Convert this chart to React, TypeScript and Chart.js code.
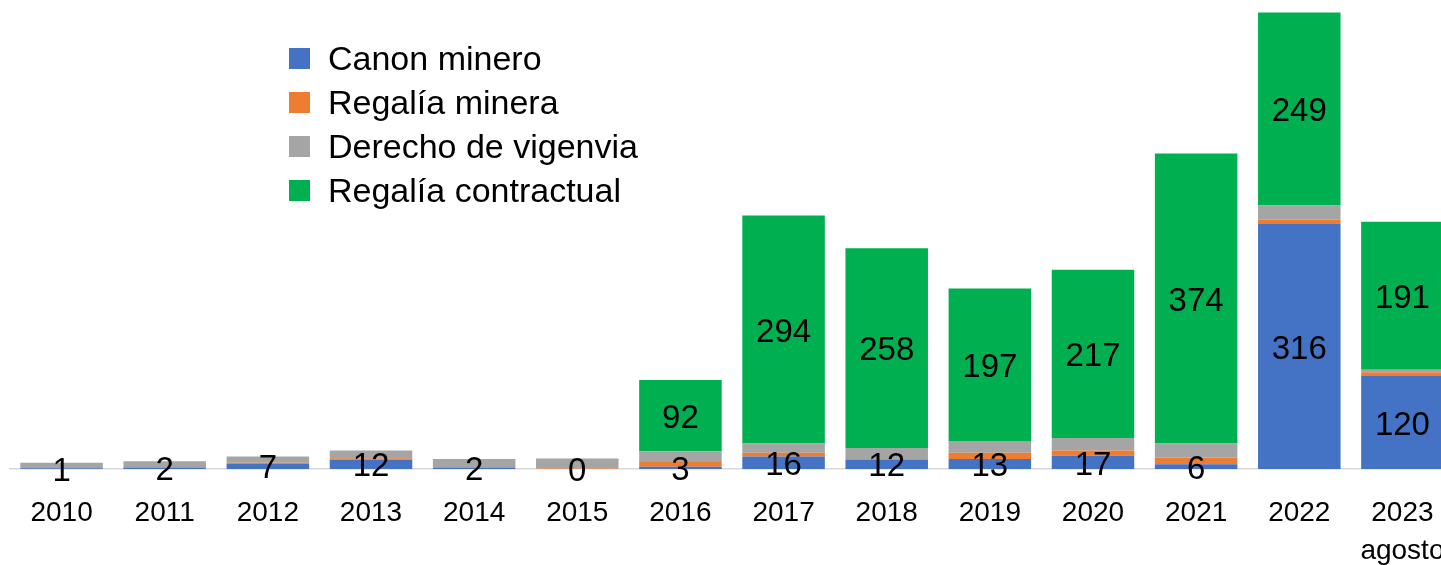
import React, { useEffect, useRef } from "react";
import { Chart, registerables } from "chart.js";

Chart.register(...registerables);

const years: (string | string[])[] = [
  "2010", "2011", "2012", "2013", "2014", "2015", "2016",
  "2017", "2018", "2019", "2020", "2021", "2022", ["2023", "agosto"],
];
const canonMinero = [1, 2, 7, 12, 2, 0, 3, 16, 12, 13, 17, 6, 316, 120];
const regaliaMinera = [0, 0, 1, 2, 0, 0.5, 6, 5, 1, 8, 7, 9, 6, 5];
const derechoVigencia = [7, 8, 8, 10, 11, 13, 14, 12, 14, 15, 16, 18, 18, 3];
const regaliaContractual = [null, null, null, null, null, null, 92, 294, 258, 197, 217, 374, 249, 191];

const seriesNames = ["Canon minero", "Regalía minera", "Derecho de vigenvia", "Regalía contractual"];
const seriesColors = ["#4472C4", "#ED7D31", "#A5A5A5", "#00B050"];
const labelledSeries = [0, 3];

const FONT = "'Liberation Sans', Arial, sans-serif";

const labelPlugin = {
  id: "segmentLabels",
  afterDatasetsDraw(chart: any) {
    const ctx = chart.ctx;
    ctx.save();
    ctx.font = `33px ${FONT}`;
    ctx.fillStyle = "#000";
    ctx.textAlign = "center";
    ctx.textBaseline = "middle";
    labelledSeries.forEach((di) => {
      const meta = chart.getDatasetMeta(di);
      const data = chart.data.datasets[di].data;
      meta.data.forEach((bar: any, j: number) => {
        const v = data[j];
        if (v === null || v === undefined) return;
        const { x, y, base } = bar.getProps(["x", "y", "base"], true);
        ctx.fillText(String(v), x, (y + base) / 2 + 3);
      });
    });
    ctx.restore();
  },
};

const legendPlugin = {
  id: "insideLegend",
  afterDraw(chart: any) {
    const ctx = chart.ctx;
    ctx.save();
    ctx.font = `34px ${FONT}`;
    ctx.textAlign = "left";
    ctx.textBaseline = "middle";
    chart.data.datasets.forEach((ds: any, i: number) => {
      const top = 48 + i * 44;
      ctx.fillStyle = ds.backgroundColor;
      ctx.fillRect(289, top, 21, 21);
      ctx.fillStyle = "#000";
      ctx.fillText(ds.label, 328, top + 13);
    });
    ctx.restore();
  },
};

export default function App() {
  const canvasRef = useRef<HTMLCanvasElement | null>(null);

  useEffect(() => {
    if (!canvasRef.current) return;
    const datasets = [canonMinero, regaliaMinera, derechoVigencia, regaliaContractual].map((d, i) => ({
      label: seriesNames[i],
      data: d,
      backgroundColor: seriesColors[i],
      borderWidth: 0,
      categoryPercentage: 1,
      barPercentage: 0.8,
    }));
    const chart = new Chart(canvasRef.current, {
      type: "bar",
      data: { labels: years, datasets: datasets as any },
      options: {
        responsive: false,
        animation: false,
        devicePixelRatio: 1,
        layout: { padding: { top: 4, left: 10, right: 8, bottom: 0 } },
        plugins: {
          legend: { display: false },
          tooltip: { enabled: false },
        },
        scales: {
          x: {
            stacked: true,
            grid: { display: false, drawTicks: false },
            border: { display: true, color: "#D9D9D9", width: 1.5 },
            ticks: {
              color: "#000",
              font: { family: FONT, size: 28, lineHeight: 1.36 },
              padding: 25,
              maxRotation: 0,
              autoSkip: false,
            },
            afterFit: (scale: any) => {
              scale.height = 96;
              scale.paddingLeft = 0;
              scale.paddingRight = 0;
            },
          },
          y: {
            stacked: true,
            display: false,
            min: 0,
            max: 600,
          },
        },
      },
      plugins: [labelPlugin, legendPlugin],
    });
    return () => chart.destroy();
  }, []);

  return (
    <div style={{ position: "fixed", left: 0, top: 0, width: 1441, height: 565, overflow: "hidden", background: "#fff" }}>
      <canvas ref={canvasRef} width={1462} height={565} style={{ width: 1462, height: 565, display: "block" }} />
    </div>
  );
}
